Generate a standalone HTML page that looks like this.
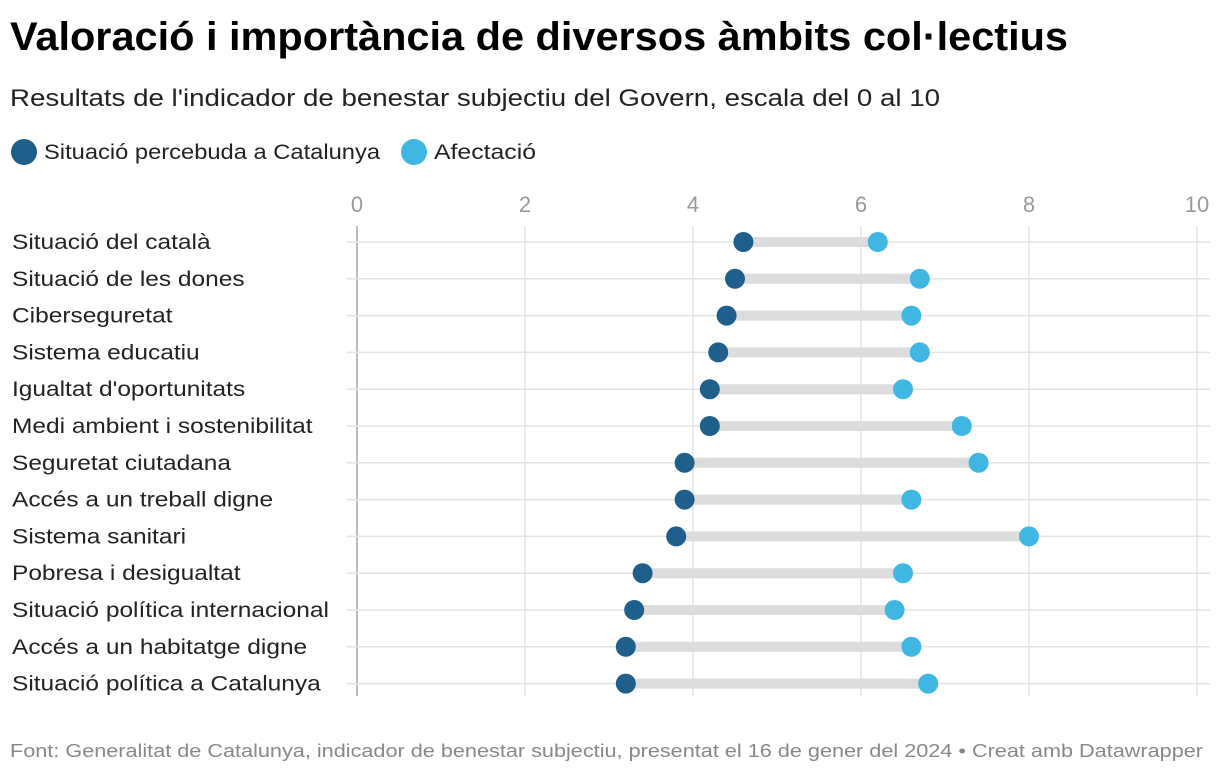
<!DOCTYPE html>
<html><head><meta charset="utf-8"><style>
body{margin:0;background:#fff;font-family:"Liberation Sans",sans-serif;}
</style></head><body>
<svg width="1220" height="776" xmlns="http://www.w3.org/2000/svg" font-family="Liberation Sans, sans-serif">
<text x="10" y="50" font-size="40" font-weight="bold" fill="#000" textLength="1058" lengthAdjust="spacingAndGlyphs">Valoració i importància de diversos àmbits col·lectius</text>
<text x="10" y="106" font-size="24" fill="#222" textLength="930" lengthAdjust="spacingAndGlyphs">Resultats de l'indicador de benestar subjectiu del Govern, escala del 0 al 10</text>
<g>
<circle cx="24" cy="152" r="13" fill="#1f5f8b"/>
<text x="44" y="159" font-size="21" fill="#222" textLength="336" lengthAdjust="spacingAndGlyphs">Situació percebuda a Catalunya</text>
<circle cx="414" cy="152" r="13" fill="#40b6e3"/>
<text x="434" y="159" font-size="21" fill="#222" textLength="102" lengthAdjust="spacingAndGlyphs">Afectació</text>
</g>
<g id="plot"></g>
<text x="10" y="757" font-size="18" fill="#888" textLength="1193" lengthAdjust="spacingAndGlyphs">Font: Generalitat de Catalunya, indicador de benestar subjectiu, presentat el 16 de gener del 2024 • Creat amb Datawrapper</text>
</svg>
<script>
const categories=["Situació del català","Situació de les dones","Ciberseguretat","Sistema educatiu","Igualtat d'oportunitats","Medi ambient i sostenibilitat","Seguretat ciutadana","Accés a un treball digne","Sistema sanitari","Pobresa i desigualtat","Situació política internacional","Accés a un habitatge digne","Situació política a Catalunya"];
const situacio=[4.6,4.5,4.4,4.3,4.2,4.2,3.9,3.9,3.8,3.4,3.3,3.2,3.2];
const afectacio=[6.2,6.7,6.6,6.7,6.5,7.2,7.4,6.6,8.0,6.5,6.4,6.6,6.8];
const ticks=[0,2,4,6,8,10];
const NS="http://www.w3.org/2000/svg";
const g=document.getElementById('plot');
const x=v=>357+v*84;
const y=i=>242+i*36.8;
function mk(t,a){const e=document.createElementNS(NS,t);for(const k in a)e.setAttribute(k,a[k]);g.appendChild(e);return e;}
ticks.forEach(t=>{
 const l=mk('line',{x1:x(t),x2:x(t),y1:226,y2:696,stroke:t===0?'#bbb':'#e3e3e3','stroke-width':t===0?2:1.5});
 
 
 const tx=mk('text',{x:x(t),y:212,'font-size':22,fill:'#999','text-anchor':'middle'});
 tx.textContent=t;
 
 
});
categories.forEach((c,i)=>{
 const yy=y(i);
 const gl=mk('line',{x1:347,x2:1210,y1:yy,y2:yy,stroke:'#e3e3e3','stroke-width':1.5});
 
 
 const lb=mk('text',{x:12,y:yy+7,'font-size':21,fill:'#222'});
 lb.textContent=c;
 
 
 const w=lb.getComputedTextLength();
 lb.setAttribute('textLength',w*1.165);
 lb.setAttribute('lengthAdjust','spacingAndGlyphs');
 const bar=mk('line',{x1:x(situacio[i]),x2:x(afectacio[i]),y1:yy,y2:yy,stroke:'#dcdcdc','stroke-width':10});
 
 
 const d1=mk('circle',{cx:x(situacio[i]),cy:yy,r:10,fill:'#1f5f8b'});
 
 
 const d2=mk('circle',{cx:x(afectacio[i]),cy:yy,r:10,fill:'#40b6e3'});
 
 
});
</script>
</body></html>
